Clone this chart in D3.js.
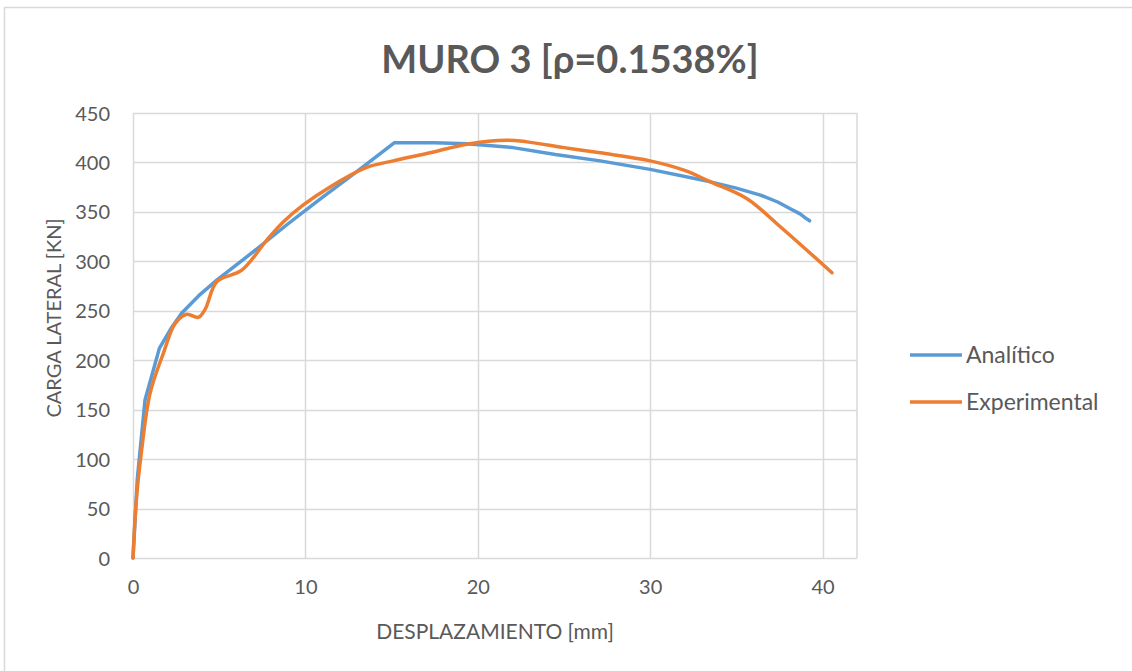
<!DOCTYPE html>
<html>
<head>
<meta charset="utf-8">
<script src="https://cdn.jsdelivr.net/npm/d3@7"></script>
<style>
  html, body { margin: 0; padding: 0; background: #fff; }
  svg { display: block; }
  text { font-family: Lato, "Open Sans", sans-serif; fill: #595959; }
</style>
</head>
<body>
<svg id="chart" width="1132" height="671"></svg>
<script>
// Load–displacement curves for wall 3
const analiticoX = [0, 0.25, 0.70, 1.53, 2.2, 2.82, 3.8, 4.86, 7.0, 9.0, 10.85, 13.0, 15.17, 17.5, 19.36, 22.05, 24.5, 27.1, 30.0, 33.5, 35.0, 36.4, 37.4, 38.1, 38.7, 39.0, 39.25];
const analiticoY = [0, 80, 160, 212, 232, 247.5, 265, 281, 310, 338, 363, 391, 420, 420, 419, 415, 408, 401.6, 393, 380.4, 374, 367, 360, 353.5, 348, 344, 341];

const experimentalX = [0, 0.2, 0.5, 0.99, 1.76, 2.44, 3.11, 3.79, 4.2, 4.86, 6.31, 7.76, 8.73, 9.88, 11.5, 13.56, 15.1, 17.3, 19.36, 21.7, 22.85, 25.0, 27.1, 30.0, 32.0, 33.5, 35.6, 37.55, 40.55];
const experimentalY = [0, 60, 109, 166.6, 207, 237, 246.5, 243.4, 252, 279.4, 291, 321.5, 340, 357, 376, 395, 401.6, 410, 418.5, 422.5, 420.8, 415, 409.7, 401.6, 392, 380.4, 363.6, 335, 288.5];

const xTicks = [0, 10, 20, 30, 40];
const yTicks = [0, 50, 100, 150, 200, 250, 300, 350, 400, 450];

const seriesNames = ["Analítico", "Experimental"];
const seriesColors = ["#5B9BD5", "#ED7D31"];

const svg = d3.select("#chart");

// Chart frame
svg.append("rect")
  .attr("x", 4.5).attr("y", 7.5)
  .attr("width", 1140).attr("height", 680)
  .attr("fill", "#fff")
  .attr("stroke", "#D9D9D9")
  .attr("stroke-width", 1.5);

const plot = { left: 133, right: 857, top: 113, bottom: 558 };

const x = d3.scaleLinear().domain([0, 42]).range([plot.left, plot.right]);
const y = d3.scaleLinear().domain([0, 450]).range([plot.bottom, plot.top]);

// Gridlines
const grid = svg.append("g").attr("stroke", "#D9D9D9").attr("stroke-width", 1.5);
grid.selectAll(".gy").data(yTicks).enter().append("line")
  .attr("x1", plot.left).attr("x2", plot.right)
  .attr("y1", d => Math.round(y(d)) + 0.5).attr("y2", d => Math.round(y(d)) + 0.5);
grid.selectAll(".gx").data(xTicks).enter().append("line")
  .attr("y1", plot.top).attr("y2", plot.bottom)
  .attr("x1", d => Math.round(x(d)) + 0.5).attr("x2", d => Math.round(x(d)) + 0.5);
// Right edge of the plot area
grid.append("line")
  .attr("x1", plot.right).attr("x2", plot.right)
  .attr("y1", plot.top).attr("y2", plot.bottom);

// Axes (labels only, lines hidden)
const xAxis = d3.axisBottom(x).tickValues(xTicks).tickSize(0).tickPadding(22).tickFormat(d3.format("d"));
const yAxis = d3.axisLeft(y).tickValues(yTicks).tickSize(0).tickPadding(23).tickFormat(d3.format("d"));

const gx = svg.append("g").attr("transform", `translate(0,${plot.bottom})`).call(xAxis);
const gy = svg.append("g").attr("transform", `translate(${plot.left},0)`).call(yAxis);
[gx, gy].forEach(g => {
  g.select(".domain").remove();
  g.selectAll("text")
    .style("font-family", "Lato, 'Open Sans', sans-serif")
    .style("font-size", "20px")
    .attr("fill", "#595959");
});
gy.selectAll("text").attr("dy", "0.35em");

// Series
const series = [
  { name: seriesNames[0], color: seriesColors[0], xs: analiticoX, ys: analiticoY, curve: d3.curveLinear },
  { name: seriesNames[1], color: seriesColors[1], xs: experimentalX, ys: experimentalY, curve: d3.curveCatmullRom.alpha(0.5) }
];

series.forEach(s => {
  const pts = s.xs.map((v, i) => [v, s.ys[i]]);
  svg.append("path")
    .datum(pts)
    .attr("fill", "none")
    .attr("stroke", s.color)
    .attr("stroke-width", 3.5)
    .attr("stroke-linejoin", "round")
    .attr("stroke-linecap", "round")
    .attr("d", d3.line().x(d => x(d[0])).y(d => y(d[1])).curve(s.curve));
});

// Title
svg.append("text")
  .attr("x", 570).attr("y", 73)
  .attr("text-anchor", "middle")
  .style("font-size", "38px")
  .style("font-weight", "bold")
  .attr("fill", "#404040")
  .text("MURO 3 [ρ=0.1538%]");

// Axis titles
svg.append("text")
  .attr("x", 495).attr("y", 639)
  .attr("text-anchor", "middle")
  .style("font-size", "21px")
  .attr("fill", "#404040")
  .text("DESPLAZAMIENTO [mm]");

svg.append("text")
  .attr("transform", "translate(61,318) rotate(-90)")
  .attr("text-anchor", "middle")
  .style("font-size", "20px")
  .attr("fill", "#404040")
  .text("CARGA LATERAL [KN]");

// Legend
const legend = svg.append("g");
series.forEach((s, i) => {
  const ly = 355 + i * 47;
  legend.append("line")
    .attr("x1", 910).attr("x2", 962)
    .attr("y1", ly).attr("y2", ly)
    .attr("stroke", s.color).attr("stroke-width", 3.5);
  legend.append("text")
    .attr("x", 966).attr("y", ly)
    .attr("dy", "0.35em")
    .style("font-size", "23px")
    .attr("fill", "#404040")
    .text(s.name);
});
</script>
</body>
</html>
